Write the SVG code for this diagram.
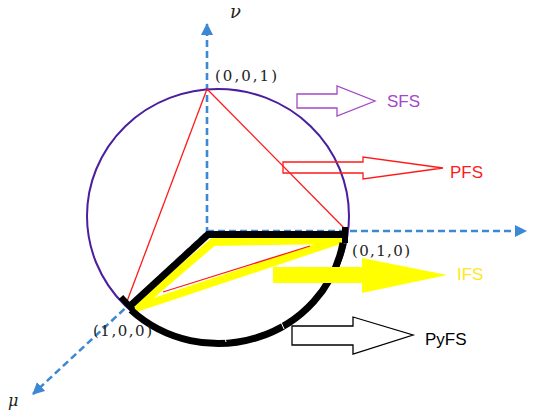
<svg xmlns="http://www.w3.org/2000/svg" width="539" height="413" viewBox="0 0 539 413">
<style>
.axis{stroke:#3C88D2;stroke-width:2.6;stroke-dasharray:7 4;fill:none}
.red{stroke:#FF1A1A;stroke-width:1.3;fill:none}
.lbl{font-family:"Liberation Sans",Arial,sans-serif;font-size:17px}
.coord{font-family:"DejaVu Serif","Liberation Serif",serif;font-size:15px;fill:#222}
.greek{font-family:"DejaVu Serif","Liberation Serif",serif;font-style:italic;fill:#222}
</style>
<defs>
<marker id="ah" viewBox="0 0 12 12" refX="11" refY="6" markerUnits="userSpaceOnUse" markerWidth="12" markerHeight="13" orient="auto">
<path d="M0,0 L12,6 L0,12 z" fill="#3C88D2"/>
</marker>
</defs>
<g id="connectors">
<line class="axis" x1="207" y1="234" x2="207" y2="24" marker-end="url(#ah)"/>
<line class="axis" x1="207" y1="231" x2="526" y2="231" marker-end="url(#ah)"/>
<line class="axis" x1="205" y1="234" x2="33" y2="394" marker-end="url(#ah)"/>
</g>
<g id="sphere">
<ellipse cx="218" cy="216" rx="131" ry="127" fill="none" stroke="#4B1E9E" stroke-width="2"/>
</g>
<g id="pfs-triangle">
<line class="red" x1="207" y1="89" x2="126" y2="304"/>
<line class="red" x1="207" y1="89" x2="348" y2="232"/>
</g>
<g id="ifs-triangle">
<polygon points="136,308 213,242 340,240" fill="none" stroke="#FFFF00" stroke-width="8" stroke-linejoin="round"/>
<line class="red" x1="163" y1="292" x2="310" y2="246"/>
</g>
<g id="pyfs-region">
<path d="M130,306 L208,234.5 L345,234.5" fill="none" stroke="#000" stroke-width="7"/>
<line x1="121" y1="297" x2="133" y2="310" stroke="#000" stroke-width="6"/>
<line x1="345" y1="227" x2="345" y2="243" stroke="#000" stroke-width="6"/>
<path d="M343,243 A127 123 0 0 1 131,310" fill="none" stroke="#000" stroke-width="7"/>
<line x1="224" y1="334" x2="226" y2="342" stroke="#fff" stroke-width="1"/>
<line x1="281" y1="322" x2="284" y2="329" stroke="#fff" stroke-width="1"/>
</g>
<g id="sfs">
<polygon points="297,94 337,94 337,86 375,101 337,116 337,108 297,108" fill="none" stroke="#A447C8" stroke-width="1.3"/>
<text class="lbl" x="387" y="107" fill="#A447C8">SFS</text>
</g>
<g id="pfs">
<polygon points="283,162 363,162 363,157 443,168 363,179 363,173 283,173" fill="none" stroke="#FF1A1A" stroke-width="1.3"/>
<text class="lbl" x="450" y="178" fill="#FF1A1A">PFS</text>
</g>
<g id="ifs">
<polygon points="273,267 362,267 362,258 447,275 362,293 362,283 273,283" fill="#FFFF00"/>
<text class="lbl" x="457" y="280" fill="#FFE81A">IFS</text>
</g>
<g id="pyfs">
<polygon points="292,326 353,326 353,317 413,335 353,354 353,345 292,345" fill="#fff" stroke="#000" stroke-width="1.3"/>
<text class="lbl" x="425" y="345" fill="#000">PyFS</text>
</g>
<g id="labels">
<text class="coord" x="215" y="81" textLength="62">(0,0,1)</text>
<text class="coord" x="352" y="256" textLength="58">(0,1,0)</text>
<text class="coord" x="93" y="336" textLength="59">(1,0,0)</text>
<text class="greek" x="230" y="18" font-size="18">ν</text>
<text class="greek" x="8" y="406" font-size="16">μ</text>
</g>
</svg>
